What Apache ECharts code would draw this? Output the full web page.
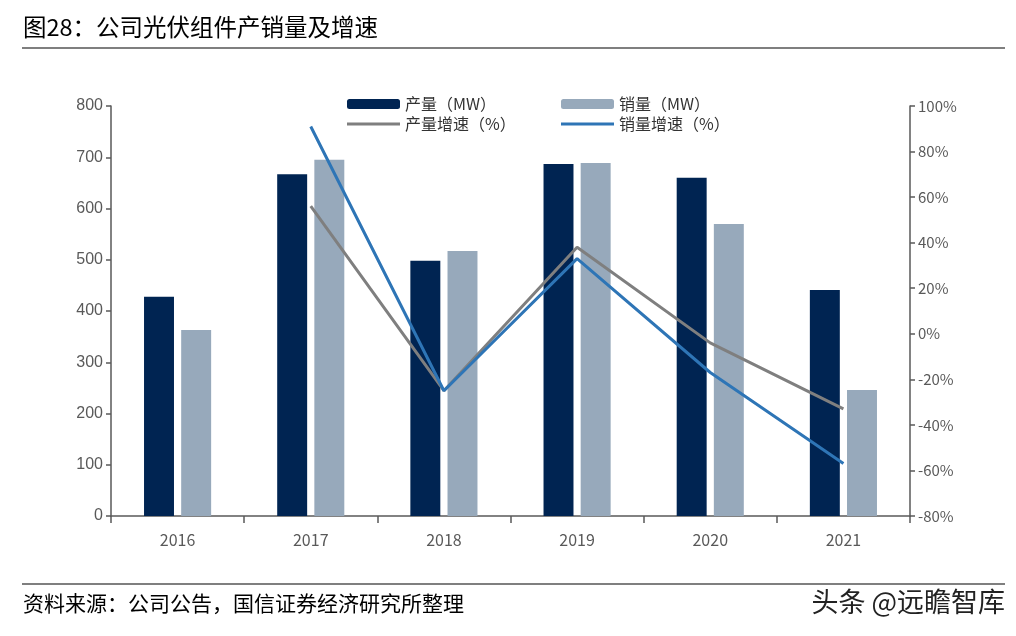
<!DOCTYPE html>
<html>
<head>
<meta charset="utf-8">
<script src="https://cdn.jsdelivr.net/npm/echarts@6/dist/echarts.min.js"></script>
<style>
html,body{margin:0;padding:0;background:#fff;}
#chart{width:1016px;height:636px;}
</style>
</head>
<body>
<div id="chart"></div>
<script>
const categories = ['2016','2017','2018','2019','2020','2021'];
const production = [428, 667, 498, 687, 660, 441];
const sales = [363, 695, 517, 689, 570, 246];
const productionGrowth = [null, 56, -25, 38, -4, -33];
const salesGrowth = [null, 91, -25, 33, -17, -57];
const leftTicks = {min: 0, max: 800, interval: 100};
const rightTicks = {min: -80, max: 100, interval: 20};

const FONT = '"Noto Sans CJK SC", "Noto Sans", sans-serif';
const LINE_ICON = 'path://M0,0 L53,0 L53,3 L0,3 Z';
const chart = echarts.init(document.getElementById('chart'));
const axisColor = '#595959';
chart.setOption({
  backgroundColor: '#fff',
  animation: false,
  textStyle: {fontFamily: FONT},
  graphic: [
    {type: 'text', left: 23, top: 15, style: {text: '图28：公司光伏组件产销量及增速', fontSize: 23.5, fontFamily: FONT, fill: '#000'}},
    {type: 'line', shape: {x1: 22, y1: 48, x2: 1005, y2: 48}, style: {stroke: '#555', lineWidth: 1.5}},
    {type: 'line', shape: {x1: 22, y1: 584, x2: 1005, y2: 584}, style: {stroke: '#555', lineWidth: 1.5}},
    {type: 'text', left: 23, top: 593, style: {text: '资料来源：公司公告，国信证券经济研究所整理', fontSize: 21, fontFamily: FONT, fill: '#000'}},
    {type: 'text', right: 11, top: 588, style: {text: '头条 @远瞻智库', fontSize: 27, fontFamily: FONT, fill: '#222'}}
  ],
  legend: [
    {
      orient: 'vertical', left: 342, top: 91, itemWidth: 53, itemHeight: 10, itemGap: 4,
      textStyle: {fontSize: 16, color: '#333', fontFamily: FONT},
      data: [{name: '产量（MW）'}, {name: '产量增速（%）', icon: LINE_ICON}]
    },
    {
      orient: 'vertical', left: 556, top: 91, itemWidth: 53, itemHeight: 10, itemGap: 4,
      textStyle: {fontSize: 16, color: '#333', fontFamily: FONT},
      data: [{name: '销量（MW）'}, {name: '销量增速（%）', icon: LINE_ICON}]
    }
  ],
  grid: {left: 111, right: 106, top: 106, bottom: 120, containLabel: false},
  xAxis: {
    type: 'category', data: categories, boundaryGap: true,
    axisLine: {lineStyle: {color: axisColor, width: 1.5}},
    axisTick: {show: true, alignWithLabel: false, length: 7, lineStyle: {color: axisColor, width: 1.5}},
    axisLabel: {fontSize: 16, color: '#595959', margin: 16, fontFamily: FONT}
  },
  yAxis: [
    {
      type: 'value', min: leftTicks.min, max: leftTicks.max, interval: leftTicks.interval,
      axisLine: {show: true, lineStyle: {color: axisColor, width: 1.5}},
      axisTick: {show: true, length: 5, lineStyle: {color: axisColor, width: 1.5}},
      splitLine: {show: false},
      axisLabel: {fontSize: 16, color: '#595959', margin: 8, fontFamily: '"Liberation Sans", sans-serif'}
    },
    {
      type: 'value', position: 'right', min: rightTicks.min, max: rightTicks.max, interval: rightTicks.interval,
      axisLine: {show: true, lineStyle: {color: axisColor, width: 1.5}},
      axisTick: {show: true, length: 5, lineStyle: {color: axisColor, width: 1.5}},
      splitLine: {show: false},
      axisLabel: {fontSize: 15, color: '#595959', margin: 8, formatter: v => v + '%', fontFamily: FONT}
    }
  ],
  series: [
    {name: '产量（MW）', type: 'bar', data: production, barWidth: '22.5%', barGap: '24%', itemStyle: {color: '#002452'}},
    {name: '销量（MW）', type: 'bar', data: sales, barWidth: '22.5%', barGap: '24%', itemStyle: {color: '#97a9bb'}},
    {name: '产量增速（%）', type: 'line', yAxisIndex: 1, data: productionGrowth, symbol: 'none', lineStyle: {color: '#7f7f7f', width: 3}, itemStyle: {color: '#7f7f7f'}},
    {name: '销量增速（%）', type: 'line', yAxisIndex: 1, data: salesGrowth, symbol: 'none', lineStyle: {color: '#2e75b6', width: 3}, itemStyle: {color: '#2e75b6'}}
  ]
});
</script>
</body>
</html>
